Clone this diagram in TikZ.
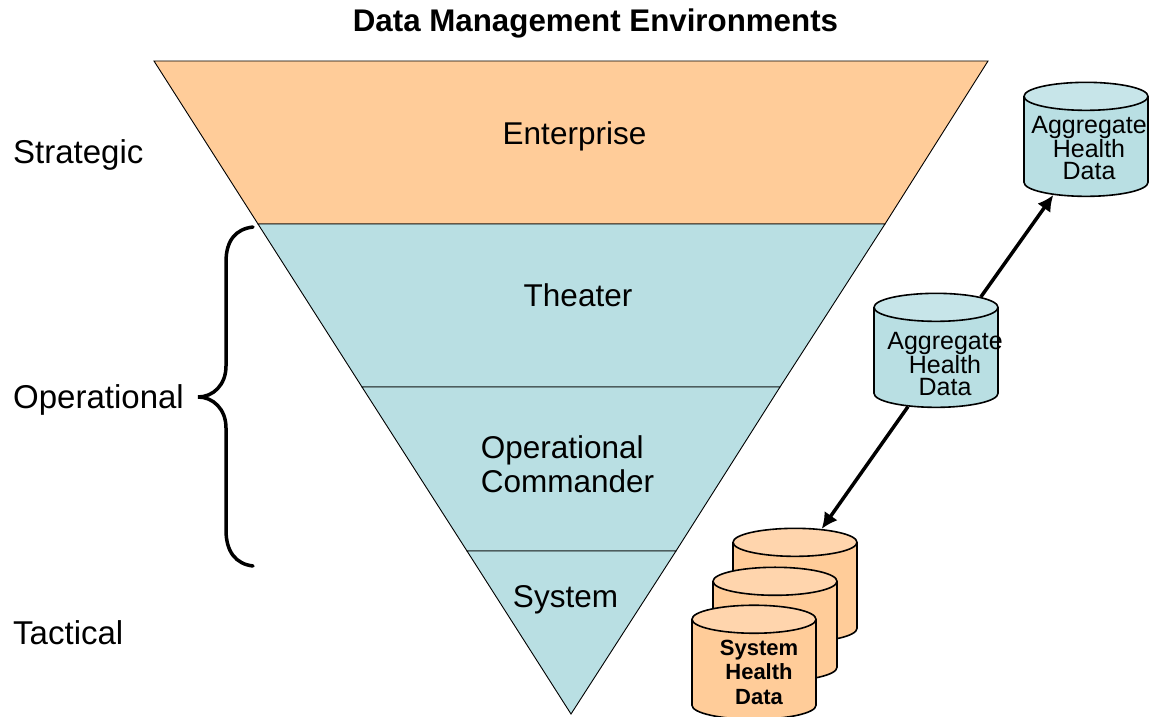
\documentclass[tikz,border=0pt]{standalone}
\usepackage{fontspec}
\setmainfont{Liberation Sans}
\usetikzlibrary{shapes.geometric,arrows.meta}
\definecolor{bandorange}{HTML}{FFCC99}
\definecolor{bandblue}{HTML}{B9DFE3}
\definecolor{toporange}{HTML}{FFD5AD}
\definecolor{topblue}{HTML}{C7E5E9}
\tikzset{
  band/.style={draw=black, line width=0.9pt},
  bandtext/.style={font=\fontsize{31.5}{34.5}\selectfont, align=left, inner sep=0pt},
  leveltext/.style={font=\fontsize{33}{36}\selectfont, anchor=west, inner sep=0pt},
  dbcyl/.style={draw=black, line width=1.6pt, cylinder, shape border rotate=90, shape aspect=4.2,
    minimum width=124pt, minimum height=114pt, cylinder uses custom fill},
  aggdb/.style={dbcyl, cylinder body fill=bandblue, cylinder end fill=topblue},
  sysdb/.style={dbcyl, cylinder body fill=bandorange, cylinder end fill=toporange},
  aggtext/.style={font=\fontsize{25}{22}\selectfont, align=center, inner sep=0pt},
  systext/.style={font=\fontsize{22}{24.5}\bfseries\selectfont, align=center, inner sep=0pt},
  link/.style={line width=3.5pt, -{Latex[length=16pt, width=16pt]}}
}
\begin{document}
\begin{tikzpicture}[x=1pt, y=-1pt]
      \useasboundingbox (0,0) rectangle (1151,717);

      \node[font=\fontsize{31.3}{32}\bfseries\selectfont, inner sep=0pt] (title) at (595.5,23) {Data Management Environments};

      \draw[band, fill=bandorange] (154,61) -- (988,61) -- (885,224) -- (258,224) -- cycle;
      \draw[band, fill=bandblue] (258,224) -- (885,224) -- (780,387) -- (362,387) -- cycle;
      \draw[band, fill=bandblue] (362,387) -- (780,387) -- (676,551) -- (467,551) -- cycle;
      \draw[band, fill=bandblue] (467,551) -- (676,551) -- (571,714) -- cycle;

      \node[bandtext] (ent) at (574.5,136) {Enterprise};
      \node[bandtext] (thr) at (578,295) {Theater};
      \node[bandtext] (opc) at (567.5,464) {Operational\\Commander};
      \node[bandtext] (sys) at (565.5,600) {System};

      \node[leveltext] (str) at (13,155) {Strategic};
      \node[leveltext] (opr) at (13,400) {Operational};
      \node[leveltext] (tac) at (13,633) {Tactical};

      \draw[line width=3.5pt, line cap=round] (253,227) .. controls (236,229) and (226,240) .. (226,262)
        -- (226,366) .. controls (226,385) and (213,397) .. (198,397)
        .. controls (213,397) and (226,409) .. (226,428)
        -- (226,530) .. controls (226,552) and (236,564) .. (253,566);

      \node[aggdb] (agg1) at (1086,149) {};
      \node[aggdb] (agg2) at (936,360) {};
      \node[sysdb] (sys1) at (795,595) {};
      \node[sysdb, below of=sys1, xshift=-20pt, yshift=-10.5pt] (sys2) {};
      \node[sysdb, below of=sys2, xshift=-21pt, yshift=-9.5pt] (sys3) {};

      \node[aggtext] (agg1t) at (1089,148) {Aggregate\\Health\\Data};
      \node[aggtext] (agg2t) at (945,364) {Aggregate\\Health\\Data};
      \node[systext] (sys3t) at (759,672) {System\\Health\\Data};

      \draw[link] (agg2) -- (agg1);
      \draw[link] (agg2.239) -- (sys1.68);
    \end{tikzpicture}
\end{document}
